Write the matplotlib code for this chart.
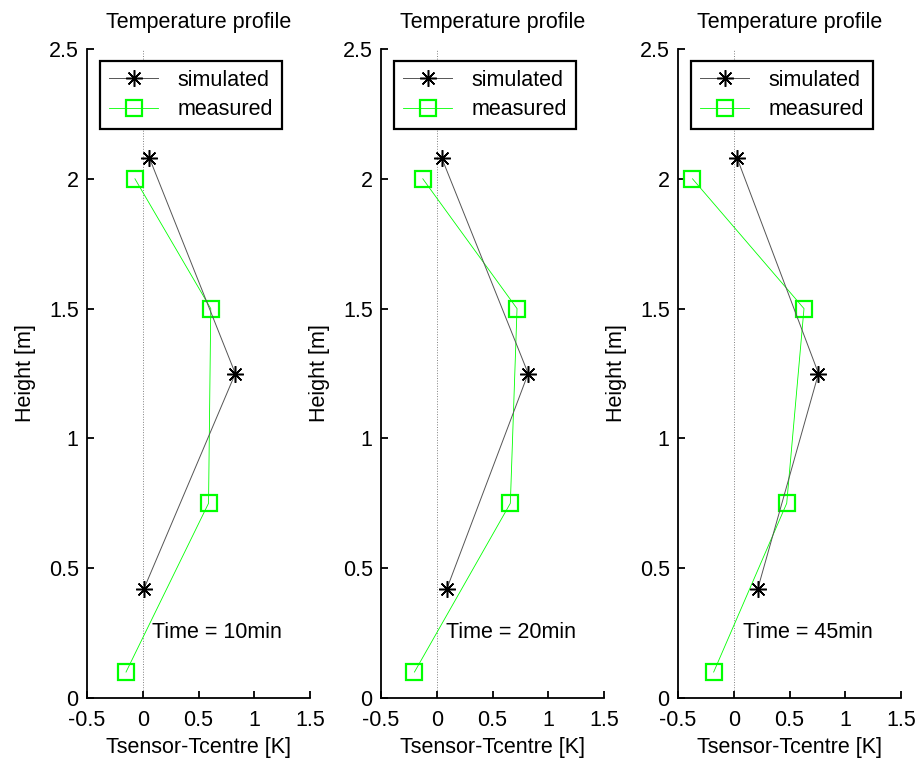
import matplotlib
matplotlib.use("Agg")
import matplotlib.pyplot as plt

plt.rcParams['font.family'] = ['Liberation Sans', 'DejaVu Sans']

sim_heights = [2.08, 1.25, 0.42]
meas_heights = [2.0, 1.5, 0.75, 0.1]

sim_10 = [0.06, 0.83, 0.01]
meas_10 = [-0.07, 0.61, 0.59, -0.15]
sim_20 = [0.045, 0.82, 0.09]
meas_20 = [-0.125, 0.72, 0.66, -0.2]
sim_45 = [0.03, 0.76, 0.215]
meas_45 = [-0.37, 0.63, 0.475, -0.18]

sim_series = [sim_10, sim_20, sim_45]
meas_series = [meas_10, meas_20, meas_45]
time_labels = ["Time = 10min", "Time = 20min", "Time = 45min"]
xticks = [-0.5, 0, 0.5, 1, 1.5]
xticklabels = ["-0.5", "0", "0.5", "1", "1.5"]
yticks = [0, 0.5, 1, 1.5, 2, 2.5]
yticklabels = ["0", "0.5", "1", "1.5", "2", "2.5"]

FS = 15.5

fig = plt.figure(figsize=(9.18, 7.66), dpi=100)
lefts = [87/918, 381/918, 678/918]
bottom = 1 - 698/766
height = (698 - 49)/766
width = 223/918

for i in range(3):
    ax = fig.add_axes([lefts[i], bottom, width, height])
    ax.axvline(0, color='#808080', lw=0.7, ls=':', zorder=1)
    ax.plot(sim_series[i], sim_heights, color='#555555', lw=0.7,
            marker=(8, 2, 0), ms=12, mec='black', mew=1.1, label='simulated', zorder=3)
    ax.plot(meas_series[i], meas_heights, color='#00ff00', lw=0.6,
            marker='s', ms=11.5, mfc='none', mec='#00ff00', mew=1.6, label='measured', zorder=2)
    ax.set_xlim(-0.5, 1.5)
    ax.set_ylim(0, 2.5)
    ax.set_xticks(xticks)
    ax.set_xticklabels(xticklabels)
    ax.set_yticks(yticks)
    ax.set_yticklabels(yticklabels)
    for s in ['top', 'right']:
        ax.spines[s].set_visible(False)
    for s in ['left', 'bottom']:
        ax.spines[s].set_linewidth(1.3)
    ax.tick_params(direction='in', length=5, width=1.3, labelsize=FS)
    ax.tick_params(axis='x', pad=9)
    ax.tick_params(axis='y', pad=6)
    ax.set_title("Temperature profile", fontsize=FS, pad=15)
    ax.set_xlabel("Tsensor-Tcentre [K]", fontsize=FS, labelpad=4)
    ax.set_ylabel("Height [m]", fontsize=FS, labelpad=9)
    ax.text(0.08, 0.254, time_labels[i], fontsize=FS, va='center', ha='left')
    leg = ax.legend(loc='upper left', bbox_to_anchor=(0.058, 0.982), fontsize=FS,
                    frameon=True, fancybox=False, borderpad=0.42, handlelength=2.3,
                    handletextpad=0.9, labelspacing=0.4, borderaxespad=0)
    leg.get_frame().set_edgecolor('black')
    leg.get_frame().set_linewidth(1.6)
    leg.get_frame().set_alpha(1)

fig.savefig("out.png", dpi=100)
